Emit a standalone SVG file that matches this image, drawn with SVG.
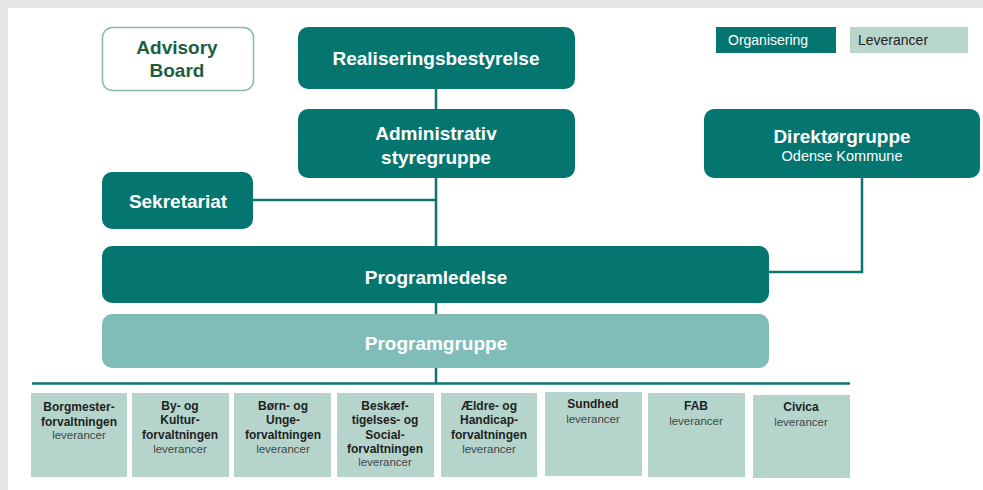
<svg xmlns="http://www.w3.org/2000/svg" width="983" height="490" viewBox="0 0 983 490">
<style>
.t{font-family:"Liberation Sans",Arial,sans-serif;text-anchor:middle}
.org{fill:#05756f}
.w{fill:#ffffff}
.b{font-weight:bold;font-size:19px}
.lev{fill:#b5d5cc}
.bt{font-weight:bold;font-size:12px;fill:#1f1f1f}
.lt{font-size:11.5px;fill:#444444}
.con{stroke:#0b7570;stroke-width:2.5;fill:none}
</style>
<rect x="0" y="0" width="983" height="490" fill="#e4e6e8"/>
<rect x="8" y="8" width="975" height="482" fill="#ffffff"/>
<g id="connectors">
<line class="con" x1="436" y1="89" x2="436" y2="383"/>
<line class="con" x1="253" y1="200" x2="436" y2="200"/>
<polyline class="con" points="769,272 862,272 862,178"/>
<line class="con" x1="32" y1="383.5" x2="850" y2="383.5" stroke-width="3"/>
</g>
<g id="legend">
<rect class="org" x="716" y="27" width="120" height="26"/>
<text class="t" x="728" y="45" style="text-anchor:start;font-size:14px" fill="#ffffff">Organisering</text>
<rect x="850" y="27" width="118" height="26" fill="#b9d6cd"/>
<text class="t" x="858" y="45" style="text-anchor:start;font-size:14px" fill="#222222">Leverancer</text>
</g>
<g id="advisory">
<rect x="102.5" y="27.5" width="151" height="63" rx="10" fill="#ffffff" stroke="#8cb7b1" stroke-width="1.5"/>
<text class="t b" x="177" y="54" fill="#1d5e42">Advisory</text>
<text class="t b" x="177" y="77" fill="#1d5e42">Board</text>
</g>
<g id="realiseringsbestyrelse">
<rect class="org" x="298" y="27" width="277" height="62" rx="10"/>
<text class="t b w" x="436" y="65">Realiseringsbestyrelse</text>
</g>
<g id="styregruppe">
<rect class="org" x="298" y="109" width="277" height="69" rx="10"/>
<text class="t b w" x="436" y="140">Administrativ</text>
<text class="t b w" x="436" y="164">styregruppe</text>
</g>
<g id="direktorgruppe">
<rect class="org" x="704" y="109" width="276" height="69" rx="10"/>
<text class="t b w" x="842" y="143">Direktørgruppe</text>
<text class="t w" x="842" y="161" style="font-size:14.5px">Odense Kommune</text>
</g>
<g id="sekretariat">
<rect class="org" x="102" y="172" width="151" height="57" rx="10"/>
<text class="t b w" x="178" y="208">Sekretariat</text>
</g>
<g id="programledelse">
<rect class="org" x="102" y="246" width="667" height="57" rx="10"/>
<text class="t b w" x="436" y="284">Programledelse</text>
</g>
<g id="programgruppe">
<rect x="102" y="314" width="667" height="54" rx="10" fill="#80bdb9"/>
<text class="t b w" x="436" y="350">Programgruppe</text>
</g>
<g id="borgmester">
<rect class="lev" x="31" y="393" width="96" height="84"/>
<text class="t bt" x="79" y="411">Borgmester-</text>
<text class="t bt" x="79" y="426">forvaltningen</text>
<text class="t lt" x="79" y="439">leverancer</text>
</g>
<g id="bykultur">
<rect class="lev" x="132" y="393" width="97" height="84"/>
<text class="t bt" x="180" y="410">By- og</text>
<text class="t bt" x="180" y="424">Kultur-</text>
<text class="t bt" x="180" y="439">forvaltningen</text>
<text class="t lt" x="180" y="453">leverancer</text>
</g>
<g id="bornunge">
<rect class="lev" x="234" y="393" width="97" height="84"/>
<text class="t bt" x="283" y="410">Børn- og</text>
<text class="t bt" x="283" y="424">Unge-</text>
<text class="t bt" x="283" y="439">forvaltningen</text>
<text class="t lt" x="283" y="453">leverancer</text>
</g>
<g id="beskaeftigelse">
<rect class="lev" x="337" y="393" width="97" height="84"/>
<text class="t bt" x="385" y="410">Beskæf-</text>
<text class="t bt" x="385" y="424">tigelses- og</text>
<text class="t bt" x="385" y="439">Social-</text>
<text class="t bt" x="385" y="453">forvaltningen</text>
<text class="t lt" x="385" y="466">leverancer</text>
</g>
<g id="aeldre">
<rect class="lev" x="441" y="393" width="96" height="84"/>
<text class="t bt" x="489" y="410">Ældre- og</text>
<text class="t bt" x="489" y="424">Handicap-</text>
<text class="t bt" x="489" y="439">forvaltningen</text>
<text class="t lt" x="489" y="453">leverancer</text>
</g>
<g id="sundhed">
<rect class="lev" x="545" y="392" width="97" height="84"/>
<text class="t bt" x="593" y="408">Sundhed</text>
<text class="t lt" x="593" y="423">leverancer</text>
</g>
<g id="fab">
<rect class="lev" x="648" y="393" width="97" height="84"/>
<text class="t bt" x="696" y="410">FAB</text>
<text class="t lt" x="696" y="425">leverancer</text>
</g>
<g id="civica">
<rect class="lev" x="753" y="395" width="97" height="83"/>
<text class="t bt" x="801" y="411">Civica</text>
<text class="t lt" x="801" y="426">leverancer</text>
</g>
</svg>
